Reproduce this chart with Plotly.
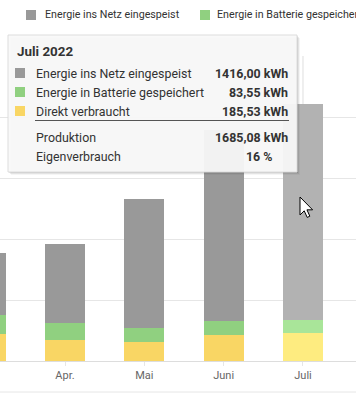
import plotly.graph_objects as go

# ---------------- data ----------------
months = ["März", "Apr.", "Mai", "Juni", "Juli"]
netz = [404, 516, 844, 1253, 1416.00]        # Energie ins Netz eingespeist (kWh)
batterie = [125, 113, 91, 92, 83.55]          # Energie in Batterie gespeichert (kWh)
direkt = [177, 138, 127, 170, 185.53]         # Direkt verbraucht (kWh)
series_names = ["Energie ins Netz eingespeist", "Energie in Batterie gespeichert", "Direkt verbraucht"]
tooltip_title = "Juli 2022"
hover_idx = 4

# ---------------- style ----------------
W, H = 356, 394
L, R, T, B = 0, 0, 56, 33
PW, PH = W - L - R, H - T - B
base_colors = ["#999999", "#90d080", "#f9d664"]
hover_colors = ["#b2b2b2", "#a9e599", "#feec80"]
FONT = "Roboto"
TXT = "#333333"
LEG_SIZE = 10.7
TIP_SIZE = 12.4


def px(x):
    return (x - L) / PW


def py(y):
    return (H - B - y) / PH


def cols(i):
    return [hover_colors[i] if k == hover_idx else base_colors[i] for k in range(len(months))]


fig = go.Figure()
# stacking order bottom -> top: direkt, batterie, netz
for vals, ci, name in [(direkt, 2, series_names[2]), (batterie, 1, series_names[1]), (netz, 0, series_names[0])]:
    fig.add_trace(go.Bar(x=months, y=vals, name=name, marker=dict(color=cols(ci), line=dict(width=0)),
                         showlegend=False, hoverinfo="skip"))

shapes = []
annotations = []

# hover crosshair line
shapes.append(dict(type="line", xref="x", yref="paper", x0=months[hover_idx], x1=months[hover_idx],
                   y0=0, y1=1, line=dict(color="#dedede", width=1), layer="below"))
# bottom separator line
shapes.append(dict(type="line", xref="paper", yref="paper", x0=0, x1=1, y0=py(392), y1=py(392),
                   line=dict(color="#e6e6e6", width=1)))

# ---------------- legend (manual) ----------------
leg_items = [(26, 43, base_colors[0], series_names[0]), (200, 215, base_colors[1], series_names[1])]
for sx, tx, c, name in leg_items:
    shapes.append(dict(type="rect", xref="paper", yref="paper", x0=px(sx), x1=px(sx + 10),
                       y0=py(20), y1=py(10), fillcolor=c, line=dict(width=0)))
    annotations.append(dict(xref="paper", yref="paper", x=px(tx), y=py(15), xanchor="left", yanchor="middle",
                            text=name, showarrow=False, font=dict(family=FONT, size=LEG_SIZE, color=TXT)))

# ---------------- tooltip ----------------
bx0, bx1, by0, by1 = 8, 297, 35, 172
for off, op in [(3, 0.04), (2, 0.07), (1, 0.10)]:
    shapes.append(dict(type="rect", xref="paper", yref="paper", x0=px(bx0 + off), x1=px(bx1 + off),
                       y0=py(by1 + off), y1=py(by0 + off), fillcolor=f"rgba(0,0,0,{op})", line=dict(width=0)))
shapes.append(dict(type="rect", xref="paper", yref="paper", x0=px(bx0), x1=px(bx1), y0=py(by1), y1=py(by0),
                   fillcolor="rgba(250,250,250,0.94)", line=dict(color="#dcdcdc", width=1)))


def fmt(v):
    return f"{v:.2f}".replace(".", ",")


annotations.append(dict(xref="paper", yref="paper", x=px(15), y=py(52), xanchor="left", yanchor="middle",
                        text=f"<b>{tooltip_title}</b>", showarrow=False,
                        font=dict(family=FONT, size=13.4, color=TXT)))
rows = [(netz[hover_idx], base_colors[0], series_names[0], 73),
        (batterie[hover_idx], base_colors[1], series_names[1], 92),
        (direkt[hover_idx], base_colors[2], series_names[2], 111)]
for v, c, name, yy in rows:
    shapes.append(dict(type="rect", xref="paper", yref="paper", x0=px(15), x1=px(25), y0=py(yy + 5), y1=py(yy - 5),
                       fillcolor=c, line=dict(width=0)))
    annotations.append(dict(xref="paper", yref="paper", x=px(34), y=py(yy), xanchor="left", yanchor="middle",
                            text=name, showarrow=False, font=dict(family=FONT, size=TIP_SIZE, color=TXT)))
    annotations.append(dict(xref="paper", yref="paper", x=px(290), y=py(yy), xanchor="right", yanchor="middle",
                            text=f"<b>{fmt(v)} kWh</b>", showarrow=False,
                            font=dict(family=FONT, size=TIP_SIZE, color=TXT)))
shapes.append(dict(type="line", xref="paper", yref="paper", x0=px(35), x1=px(289), y0=py(120.5), y1=py(120.5),
                   line=dict(color="#555555", width=1)))
prod = netz[hover_idx] + batterie[hover_idx] + direkt[hover_idx]
eigen = (batterie[hover_idx] + direkt[hover_idx]) / prod * 100
annotations.append(dict(xref="paper", yref="paper", x=px(34), y=py(137), xanchor="left", yanchor="middle",
                        text="Produktion", showarrow=False, font=dict(family=FONT, size=TIP_SIZE, color=TXT)))
annotations.append(dict(xref="paper", yref="paper", x=px(290), y=py(137), xanchor="right", yanchor="middle",
                        text=f"<b>{fmt(prod)} kWh</b>", showarrow=False,
                        font=dict(family=FONT, size=TIP_SIZE, color=TXT)))
annotations.append(dict(xref="paper", yref="paper", x=px(34), y=py(156), xanchor="left", yanchor="middle",
                        text="Eigenverbrauch", showarrow=False, font=dict(family=FONT, size=TIP_SIZE, color=TXT)))
annotations.append(dict(xref="paper", yref="paper", x=px(274), y=py(156), xanchor="right", yanchor="middle",
                        text=f"<b>{eigen:.0f} %</b>", showarrow=False,
                        font=dict(family=FONT, size=TIP_SIZE, color=TXT)))

# ---------------- mouse cursor ----------------
cx, cy, s = 300, 197, 1.2
pts = [(0, 0), (0, 15), (3.5, 11.5), (6, 17), (8.2, 16), (5.8, 10.7), (10.5, 10.7)]
path = "M " + " L ".join(f"{px(cx + a * s):.5f},{py(cy + b * s):.5f}" for a, b in pts) + " Z"
shapes.append(dict(type="path", xref="paper", yref="paper", path=path, fillcolor="white",
                   line=dict(color="black", width=1)))

# ---------------- layout ----------------
step = 79.33
x_lo = 1 - (65 - L) / step
x_hi = x_lo + PW / step
fig.update_layout(
    width=W, height=H, margin=dict(l=L, r=R, t=T, b=B),
    paper_bgcolor="white", plot_bgcolor="white",
    barmode="stack", bargap=0.495,
    shapes=shapes, annotations=annotations,
    font=dict(family=FONT, color="#666666"),
    xaxis=dict(type="category", range=[x_lo, x_hi], showgrid=False, showline=True, linecolor="#dddddd",
               ticks="outside", ticklen=4, tickcolor="#e6e6e6", tickfont=dict(family=FONT, size=11, color="#666666"),
               fixedrange=True),
    yaxis=dict(range=[0, 2000], dtick=400, showgrid=True, gridcolor="#e6e6e6", gridwidth=1,
               showticklabels=False, zeroline=False, showline=False, fixedrange=True),
)

fig.write_html("out.html", config={"displayModeBar": False},
               post_script="document.body.style.margin='0';document.body.style.overflow='hidden';")
